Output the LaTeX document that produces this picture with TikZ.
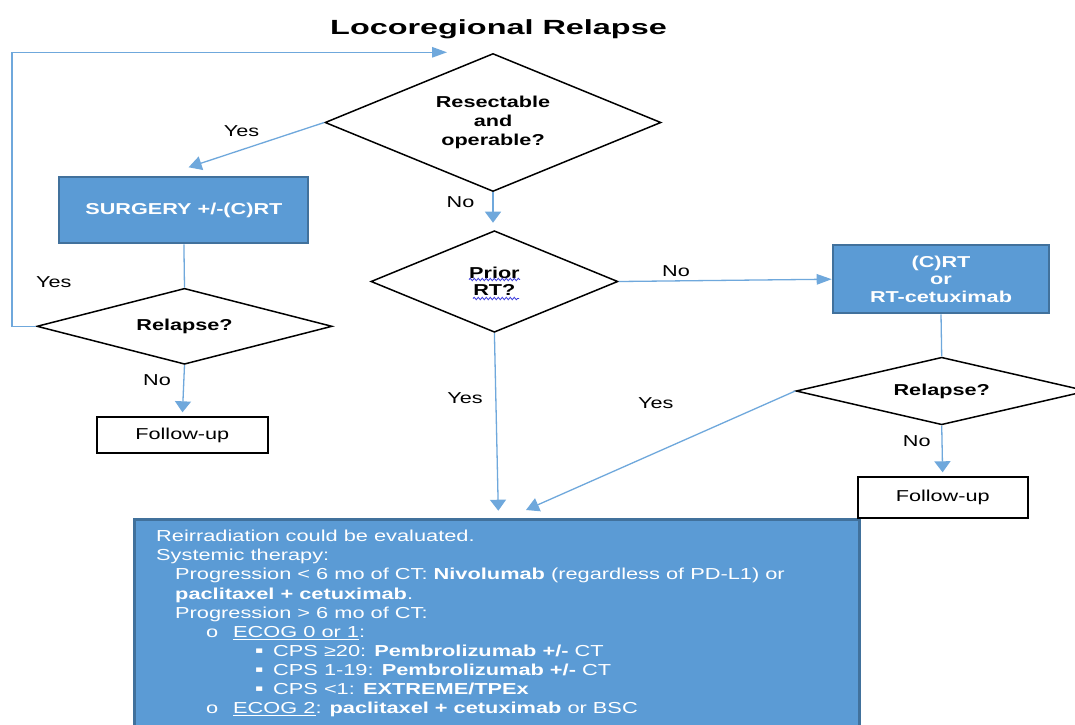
\documentclass[tikz,border=0pt]{standalone}
\usepackage{fontspec}
\setmainfont[FakeStretch=1.37]{Liberation Sans}
\newfontfamily\titlefont[FakeStretch=1.58]{Liberation Sans}
\newfontfamily\bulletfont[FakeStretch=1.37]{DejaVu Sans}
\usetikzlibrary{shapes.geometric,arrows.meta,decorations.pathmorphing}
\definecolor{boxblue}{HTML}{5B9BD5}
\definecolor{boxedge}{HTML}{41719C}
\definecolor{linkblue}{HTML}{6FA8DC}
\definecolor{wavyblue}{HTML}{3A3ADB}
\newcommand{\sqbul}{\makebox[18pt][l]{\raisebox{2.6pt}{\bulletfont\fontsize{9}{19.1}\selectfont ▪}}}
\begin{document}
\begin{tikzpicture}[x=1pt,y=-1pt,
  decision/.style={diamond, draw=black, line width=1.5pt, inner sep=0pt, align=center,
    font=\fontsize{15.8}{18.6}\selectfont\bfseries, fill=white},
  bluebox/.style={rectangle, draw=boxedge, line width=2pt, fill=boxblue, text=white,
    align=center, font=\fontsize{15.8}{17.7}\selectfont\bfseries, inner sep=0pt},
  endbox/.style={rectangle, draw=black, line width=2pt, fill=white,
    font=\fontsize{15.8}{18}\selectfont, inner sep=0pt},
  link/.style={draw=linkblue, line width=1.3pt},
  tipv/.style={-{Triangle[length=11pt,width=16pt]}},
  tiph/.style={-{Triangle[length=15pt,width=10.5pt]}},
  tipd/.style={-{Triangle[length=13pt,width=14pt]}},
  lbl/.style={font=\fontsize{15.8}{18}\selectfont, inner sep=0pt},
  wavy/.style={draw=wavyblue, line width=0.8pt, decorate,
    decoration={snake, amplitude=1.2pt, segment length=4pt}},
]
\useasboundingbox (0,0) rectangle (1075,724);
\clip (0,0) rectangle (1075,724);
\fill[white] (0,0) rectangle (1075,724);

% title
\node[font=\titlefont\fontsize{20.5}{24}\selectfont\bfseries, anchor=base] (title) at (498.5,34) {Locoregional Relapse};

% big therapy box
\node[rectangle, draw=boxedge, line width=2.5pt, fill=boxblue, minimum width=725pt,
  minimum height=225pt, anchor=north west, inner sep=0pt] (therapy) at (133,518) {};
\node[anchor=north west, inner sep=0pt, text=white, align=left,
  font=\fontsize{15.9}{19.1}\selectfont] (therapytext) at (156,530) {Reirradiation could be evaluated.\\
Systemic therapy:\\
\hspace*{19pt}Progression < 6 mo of CT: \textbf{Nivolumab} (regardless of PD-L1) or\\
\hspace*{19pt}\textbf{paclitaxel + cetuximab}.\\
\hspace*{19pt}Progression > 6 mo of CT:\\
\hspace*{50pt}\makebox[27pt][l]{o}\underline{ECOG 0 or 1}:\\
\hspace*{99pt}\sqbul CPS ≥20: \textbf{Pembrolizumab +/-} CT\\
\hspace*{99pt}\sqbul CPS 1-19: \textbf{Pembrolizumab +/-} CT\\
\hspace*{99pt}\sqbul CPS <1: \textbf{EXTREME/TPEx}\\
\hspace*{50pt}\makebox[27pt][l]{o}\underline{ECOG 2}: \textbf{paclitaxel + cetuximab} or BSC};

% decisions
\node[decision, minimum width=336pt, minimum height=138pt, aspect=2.43] (resect) at (493,122.5) {Resectable\\and\\operable?};
\node[decision, minimum width=247pt, minimum height=101.6pt, aspect=2.43,
  font=\fontsize{15.8}{17.5}\selectfont\bfseries] (prior) at (494.4,281.5) {Prior\\RT?};
\node[decision, minimum width=295.3pt, minimum height=76pt, aspect=3.9] (relL) at (184.5,326.3) {Relapse?};
\node[decision, minimum width=291.4pt, minimum height=67.6pt, aspect=4.3] (relR) at (941.7,391) {Relapse?};

% boxes
\node[bluebox, minimum width=249pt, minimum height=66.6pt] (surg) at (183.9,210) {SURGERY +/-(C)RT};
\node[bluebox, minimum width=216.6pt, minimum height=68.3pt] (crt) at (941,279.2) {(C)RT\\or\\RT-cetuximab};
\node[endbox, minimum width=170.6pt, minimum height=35.4pt] (fuL) at (182.3,435) {Follow-up};
\node[endbox, minimum width=170pt, minimum height=41pt] (fuR) at (942.7,497.8) {Follow-up};

% spell-check underlines
\draw[wavy] (469,279.5) -- (520,279.5);
\draw[wavy] (473,298.5) -- (519,298.5);

% connectors
\coordinate (loopcorner) at (12,52.3);
\coordinate (loopEnd) at (447,52.3);
\draw[link, tiph] (relL.west) -| (loopcorner) -- (loopEnd);
\node[lbl] (yes2) at (53.8,281.7) {Yes};

\coordinate (surgTip) at (188.6,167.3);
\draw[link, tipd] (resect.west) -- (surgTip);
\node[lbl] (yes1) at (241.5,131) {Yes};

\draw[link] (surg.south) -- (relL.north);
\draw[link, tipv, shorten >=4pt] (relL.south) -- (fuL.north);
\node[lbl] (no1) at (157,380) {No};

\coordinate (priorTip) at (493,222.7);
\draw[link, tipv] (resect.south) -- (priorTip);
\node[lbl] (no2) at (460.5,201.7) {No};

\draw[link, tiph] (prior.east) -- (crt.west);
\node[lbl] (no3) at (676,270.7) {No};

\draw[link] (crt.south) -- (relR.north);
\draw[link, tipv, shorten >=4pt] (relR.south) -- (fuR.north);
\node[lbl] (no4) at (916.7,440.7) {No};

\coordinate (tip1) at (498.3,510.7);
\draw[link, tipv] (prior.south) -- (tip1);
\node[lbl] (yes3) at (465,398) {Yes};

\coordinate (tip2) at (526,510);
\draw[link, tipd] (relR.west) -- (tip2);
\node[lbl] (yes4) at (655.7,402.7) {Yes};
\end{tikzpicture}
\end{document}
